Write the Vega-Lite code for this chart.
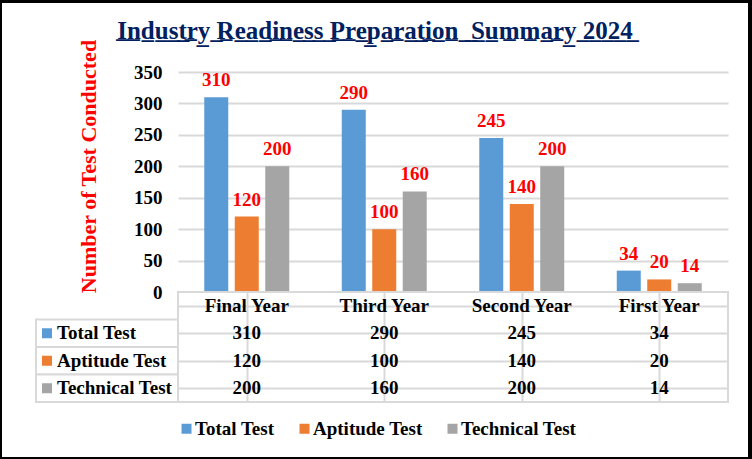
{
  "$schema": "https://vega.github.io/schema/vega-lite/v6.json",
  "background": "white",
  "padding": 0,
  "datasets": {
    "tests": [
      {"category": "Final Year", "series": "Total Test", "value": 310},
      {"category": "Final Year", "series": "Aptitude Test", "value": 120},
      {"category": "Final Year", "series": "Technical Test", "value": 200},
      {"category": "Third Year", "series": "Total Test", "value": 290},
      {"category": "Third Year", "series": "Aptitude Test", "value": 100},
      {"category": "Third Year", "series": "Technical Test", "value": 160},
      {"category": "Second Year", "series": "Total Test", "value": 245},
      {"category": "Second Year", "series": "Aptitude Test", "value": 140},
      {"category": "Second Year", "series": "Technical Test", "value": 200},
      {"category": "First Year", "series": "Total Test", "value": 34},
      {"category": "First Year", "series": "Aptitude Test", "value": 20},
      {"category": "First Year", "series": "Technical Test", "value": 14}
    ],
    "heading": [
      {"title": "I\u0332n\u0332d\u0332u\u0332s\u0332t\u0332r\u0332y\u0332 \u0332R\u0332e\u0332a\u0332d\u0332i\u0332n\u0332e\u0332s\u0332s\u0332 \u0332P\u0332r\u0332e\u0332p\u0332a\u0332r\u0332a\u0332t\u0332i\u0332o\u0332n\u0332 \u0332 \u0332S\u0332u\u0332m\u0332m\u0332a\u0332r\u0332y\u0332 \u03322\u03320\u03322\u03324\u0332"}
    ]
  },
  "concat": [
    {"width": 2, "height": 3, "view": {"fill": "black"}, "data": {"values": []}, "mark": "point"},
    {"width": 34, "height": 3, "view": {"fill": "black"}, "data": {"values": []}, "mark": "point"},
    {"width": 142, "height": 3, "view": {"fill": "black"}, "data": {"values": []}, "mark": "point"},
    {"width": 550, "height": 3, "view": {"fill": "black"}, "data": {"values": []}, "mark": "point"},
    {"width": 20, "height": 3, "view": {"fill": "black"}, "data": {"values": []}, "mark": "point"},
    {"width": 4, "height": 3, "view": {"fill": "black"}, "data": {"values": []}, "mark": "point"},

    {"width": 2, "height": 69, "view": {"fill": "black"}, "data": {"values": []}, "mark": "point"},
    {"width": 34, "height": 69, "data": {"values": []}, "mark": "point"},
    {"width": 142, "height": 69, "data": {"values": []}, "mark": "point"},
    {
      "width": 550,
      "height": 69,
      "data": {"name": "heading"},
      "mark": {"type": "text", "font": "Liberation Serif", "fontSize": 25, "fontWeight": "bold", "color": "#002060", "baseline": "alphabetic", "dy": 1, "dx": -78},
      "encoding": {"text": {"field": "title"}}
    },
    {"width": 20, "height": 69, "data": {"values": []}, "mark": "point"},
    {"width": 4, "height": 69, "view": {"fill": "black"}, "data": {"values": []}, "mark": "point"},

    {"width": 2, "height": 220, "view": {"fill": "black"}, "data": {"values": []}, "mark": "point"},
    {"width": 34, "height": 220, "data": {"values": []}, "mark": "point"},
    {"width": 142, "height": 220, "data": {"values": []}, "mark": "point"},
    {
      "width": 550,
      "height": 220,
      "data": {"name": "tests"},
      "encoding": {
        "x": {"field": "category", "type": "nominal", "sort": ["Final Year", "Third Year", "Second Year", "First Year"], "scale": {"paddingInner": 0.382, "paddingOuter": 0.191}, "axis": null},
        "xOffset": {"field": "series", "type": "nominal", "sort": ["Total Test", "Aptitude Test", "Technical Test"], "scale": {"paddingInner": 0.213}},
        "y": {
          "field": "value", "type": "quantitative",
          "scale": {"domain": [0, 350]},
          "axis": {
            "values": [0, 50, 100, 150, 200, 250, 300, 350],
            "grid": true, "gridColor": "#D9D9D9", "gridWidth": 2,
            "domain": false, "ticks": false, "tickSize": 0, "labelPadding": 16,
            "labelFont": "Liberation Serif", "labelFontSize": 19, "labelFontWeight": "bold", "labelColor": "black",
            "title": "Number of Test Conducted", "titleFont": "Liberation Serif", "titleFontSize": 22, "titleFontWeight": "bold", "titleColor": "#FF0000",
            "titleAngle": -90, "titleX": -83, "titleY": 94, "titleBaseline": "alphabetic", "titleAlign": "center"
          }
        }
      },
      "layer": [
        {
          "mark": {"type": "bar"},
          "encoding": {
            "color": {
              "field": "series", "type": "nominal", "sort": ["Total Test", "Aptitude Test", "Technical Test"],
              "scale": {"domain": ["Total Test", "Aptitude Test", "Technical Test"], "range": ["#5B9BD5", "#ED7D31", "#A5A5A5"]},
              "legend": {
                "orient": "none", "legendX": 177, "legendY": 419, "direction": "horizontal", "title": null,
                "symbolType": "square", "symbolSize": 100, "symbolStrokeWidth": 0,
                "labelFont": "Liberation Serif", "labelFontSize": 19, "labelFontWeight": "bold", "labelColor": "black",
                "labelOffset": -1, "columnPadding": 20, "padding": 0
              }
            }
          }
        },
        {
          "mark": {"type": "text", "font": "Liberation Serif", "fontSize": 19, "fontWeight": "bold", "color": "#FF0000", "baseline": "middle", "dy": -17},
          "encoding": {"text": {"field": "value", "type": "quantitative"}}
        }
      ]
    },
    {"width": 20, "height": 220, "data": {"values": []}, "mark": "point"},
    {"width": 4, "height": 220, "view": {"fill": "black"}, "data": {"values": []}, "mark": "point"},

    {"width": 2, "height": 110, "view": {"fill": "black"}, "data": {"values": []}, "mark": "point"},
    {"width": 34, "height": 110, "data": {"values": []}, "mark": "point"},
    {
      "width": 142,
      "height": 110,
      "data": {"name": "tests"},
      "transform": [{"filter": "datum.category == 'Final Year'"}],
      "encoding": {
        "y": {"field": "series", "type": "nominal", "scale": {"domain": ["Header", "Total Test", "Aptitude Test", "Technical Test"], "paddingInner": 0, "paddingOuter": 0}, "axis": null}
      },
      "layer": [
        {"mark": {"type": "rect", "fill": "white", "stroke": "#D9D9D9", "strokeWidth": 2}},
        {
          "mark": {"type": "point", "shape": "square", "filled": true, "size": 100, "opacity": 1, "xOffset": -60},
          "encoding": {"color": {"field": "series", "type": "nominal", "legend": null}}
        },
        {
          "mark": {"type": "text", "align": "left", "dx": -50, "font": "Liberation Serif", "fontSize": 19, "fontWeight": "bold", "color": "black"},
          "encoding": {"text": {"field": "series"}}
        }
      ]
    },
    {
      "width": 550,
      "height": 110,
      "view": {"stroke": "#D9D9D9", "strokeWidth": 2, "fill": "white"},
      "data": {"name": "tests"},
      "encoding": {
        "x": {
          "field": "category", "type": "nominal", "sort": ["Final Year", "Third Year", "Second Year", "First Year"],
          "scale": {"paddingInner": 0, "paddingOuter": 0},
          "axis": {"grid": true, "bandPosition": 0, "gridColor": "#D9D9D9", "gridWidth": 2, "labels": false, "ticks": false, "domain": false, "title": null}
        }
      },
      "layer": [
        {
          "mark": {"type": "text", "font": "Liberation Serif", "fontSize": 19, "fontWeight": "bold", "color": "black"},
          "encoding": {
            "y": {
              "field": "series", "type": "nominal",
              "scale": {"domain": ["Header", "Total Test", "Aptitude Test", "Technical Test"], "paddingInner": 0, "paddingOuter": 0},
              "axis": {"grid": true, "bandPosition": 0, "gridColor": "#D9D9D9", "gridWidth": 2, "labels": false, "ticks": false, "domain": false, "title": null}
            },
            "text": {"field": "value", "type": "quantitative"}
          }
        },
        {
          "transform": [{"filter": "datum.series == 'Total Test'"}],
          "mark": {"type": "text", "font": "Liberation Serif", "fontSize": 19, "fontWeight": "bold", "color": "black"},
          "encoding": {
            "y": {"datum": "Header"},
            "text": {"field": "category"}
          }
        }
      ]
    },
    {"width": 20, "height": 110, "data": {"values": []}, "mark": "point"},
    {"width": 4, "height": 110, "view": {"fill": "black"}, "data": {"values": []}, "mark": "point"},

    {"width": 2, "height": 55, "view": {"fill": "black"}, "data": {"values": []}, "mark": "point"},
    {"width": 34, "height": 55, "data": {"values": []}, "mark": "point"},
    {"width": 142, "height": 55, "data": {"values": []}, "mark": "point"},
    {"width": 550, "height": 55, "data": {"values": []}, "mark": "point"},
    {"width": 20, "height": 55, "data": {"values": []}, "mark": "point"},
    {"width": 4, "height": 55, "view": {"fill": "black"}, "data": {"values": []}, "mark": "point"},

    {"width": 2, "height": 2, "view": {"fill": "black"}, "data": {"values": []}, "mark": "point"},
    {"width": 34, "height": 2, "view": {"fill": "black"}, "data": {"values": []}, "mark": "point"},
    {"width": 142, "height": 2, "view": {"fill": "black"}, "data": {"values": []}, "mark": "point"},
    {"width": 550, "height": 2, "view": {"fill": "black"}, "data": {"values": []}, "mark": "point"},
    {"width": 20, "height": 2, "view": {"fill": "black"}, "data": {"values": []}, "mark": "point"},
    {"width": 4, "height": 2, "view": {"fill": "black"}, "data": {"values": []}, "mark": "point"}
  ],
  "columns": 6,
  "spacing": 0,
  "bounds": "flush",
  "align": "each",
  "config": {
    "font": "Liberation Serif",
    "view": {"stroke": null}
  }
}
